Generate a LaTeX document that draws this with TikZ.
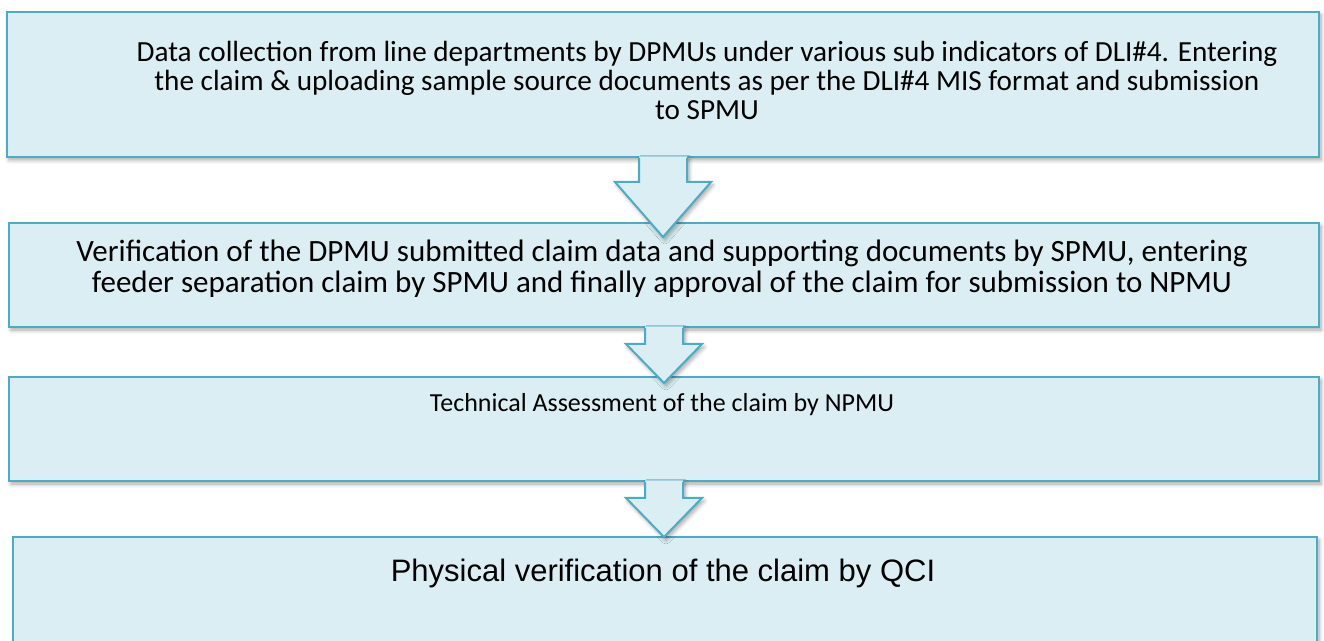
\documentclass[tikz,border=0pt]{standalone}
\usepackage{fontspec}
\setmainfont{Carlito}
\newfontfamily\arialfont{Liberation Sans}
\usetikzlibrary{calc, shadows.blur}

\definecolor{stepfill}{HTML}{DAEEF3}
\definecolor{stepline}{HTML}{4BACC6}

\tikzset{
  softshadow/.style={blur shadow={shadow xshift=1pt, shadow yshift=-1.5pt,
      shadow blur radius=2pt, shadow blur steps=6, shadow opacity=35}},
  stepbox/.style={draw=stepline, fill=stepfill, line width=1pt, inner sep=0pt,
      anchor=north west, softshadow},
  steptext/.style={align=center, inner sep=0pt, anchor=base},
  arrowbody/.style={fill=stepfill, softshadow},
  arrowline/.style={draw=stepline, line width=1pt},
}

% block arrow hanging under a box: node, stem half, head half, wing drop, tip drop
\newcommand{\flowarrow}[5]{%
  \path[arrowbody] ($(#1.south)+(-#2,-1.5)$) -- ($(#1.south)+(-#2,#4)$)
    -- ($(#1.south)+(-#3,#4)$) -- ($(#1.south)+(0,#5)$) -- ($(#1.south)+(#3,#4)$)
    -- ($(#1.south)+(#2,#4)$) -- ($(#1.south)+(#2,-1.5)$) -- cycle;
  \draw[arrowline] ($(#1.south)+(-#2,0)$) -- ($(#1.south)+(-#2,#4)$)
    -- ($(#1.south)+(-#3,#4)$) -- ($(#1.south)+(0,#5)$) -- ($(#1.south)+(#3,#4)$)
    -- ($(#1.south)+(#2,#4)$) -- ($(#1.south)+(#2,0)$);
}

\begin{document}
\begin{tikzpicture}[x=0.5pt, y=-0.5pt]
  \useasboundingbox (0,0) rectangle (1324,641);
  \clip (0,0) rectangle (1324,641);

  % the four steps
  \node[stepbox, minimum width=656pt, minimum height=72.5pt] (data) at (6,11) {};
  \node[stepbox, minimum width=655pt, minimum height=52pt] (verify) at (8,222) {};
  \node[stepbox, minimum width=655pt, minimum height=52pt] (assess) at (8,376) {};
  \node[stepbox, minimum width=652pt, minimum height=75pt] (qci) at (12,536) {};

  % texts sit on the baseline of their last line
  \node[steptext, font=\fontsize{14.6}{14.5}\selectfont] (data-text) at (707,120)
    {Data collection from line departments by DPMUs under various sub indicators of DLI\#4. Entering\\
     the claim \& uploading sample source documents as per the DLI\#4 MIS format and submission\\
     to SPMU};
  \node[steptext, font=\fontsize{15.5}{15.5}\selectfont] (verify-text) at (662,293)
    {Verification of the DPMU submitted claim data and supporting documents by SPMU, entering\\
     feeder separation claim by SPMU and finally approval of the claim for submission to NPMU};
  \node[steptext, font=\fontsize{13}{14.5}\selectfont] (assess-text) at (662,412)
    {Technical Assessment of the claim by NPMU};
  \node[steptext, font=\arialfont\fontsize{15.5}{15.5}\selectfont] (qci-text) at (663,582)
    {Physical verification of the claim by QCI};

  % arrows between steps
  \flowarrow{data}{24}{48}{24}{79}
  \flowarrow{verify}{19}{38}{16}{55}
  \flowarrow{assess}{19}{38}{16}{55}
\end{tikzpicture}
\end{document}
